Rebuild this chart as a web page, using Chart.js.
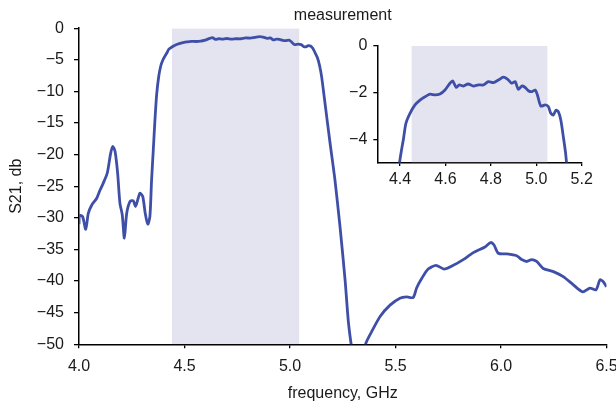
<!DOCTYPE html>
<html>
<head>
<meta charset="utf-8">
<script src="https://cdn.jsdelivr.net/npm/chart.js@4/dist/chart.umd.min.js"></script>
<style>
  body { margin: 0; background: #fff; }
  #wrap { position: relative; width: 616px; height: 403px; }
  #main-chart { position: absolute; left: 0; top: 0; }
  #inset-chart { position: absolute; left: 340px; top: 36px; }
</style>
</head>
<body>
<div id="wrap">
  <canvas id="main-chart" width="616" height="403"></canvas>
  <canvas id="inset-chart" width="276" height="154"></canvas>
</div>
<script>
const freqGHz = [
  4.000, 4.002, 4.017, 4.032, 4.044, 4.060, 4.084, 4.100, 4.115, 4.134,
  4.150, 4.160, 4.171, 4.183, 4.194, 4.205, 4.215, 4.226, 4.242, 4.257,
  4.268, 4.278, 4.289, 4.302, 4.314, 4.326, 4.336, 4.344, 4.352, 4.360,
  4.368, 4.378, 4.388, 4.398, 4.406, 4.415, 4.426, 4.444, 4.466, 4.488,
  4.510, 4.532, 4.554, 4.576, 4.598, 4.620, 4.632, 4.647, 4.661, 4.679,
  4.700, 4.723, 4.745, 4.767, 4.789, 4.811, 4.833, 4.855, 4.873, 4.892,
  4.907, 4.921, 4.936, 4.950, 4.965, 4.980, 4.995, 5.005, 5.020, 5.039,
  5.053, 5.064, 5.075, 5.087, 5.097, 5.108, 5.119, 5.130, 5.140, 5.150,
  5.166, 5.190, 5.213, 5.237, 5.261, 5.276, 5.289, 5.300, 5.325, 5.350,
  5.360, 5.387, 5.427, 5.474, 5.521, 5.553, 5.584, 5.600, 5.624, 5.655,
  5.692, 5.730, 5.774, 5.821, 5.869, 5.924, 5.951, 5.967, 5.987, 6.027,
  6.074, 6.098, 6.122, 6.145, 6.169, 6.200, 6.248, 6.295, 6.343, 6.387,
  6.422, 6.450, 6.469, 6.485, 6.500
];
const s21dB = [
  -31.0, -29.6, -29.8, -31.8, -29.3, -28.0, -26.9, -25.6, -24.5, -22.9,
  -19.8, -18.7, -19.5, -22.9, -27.7, -29.5, -33.2, -29.3, -27.4, -27.3,
  -28.2, -27.2, -26.1, -26.6, -29.3, -31.0, -29.8, -24.0, -19.3, -14.5,
  -10.5, -7.6, -5.9, -5.0, -4.5, -4.0, -3.32, -2.89, -2.53, -2.32,
  -2.18, -2.07, -2.10, -2.06, -1.89, -1.60, -1.50, -1.77, -1.67, -1.72,
  -1.63, -1.72, -1.67, -1.67, -1.53, -1.57, -1.46, -1.34, -1.42, -1.60,
  -1.53, -1.86, -1.72, -1.77, -1.92, -1.96, -1.89, -2.10, -2.58, -2.53,
  -2.60, -2.89, -2.96, -2.75, -2.82, -3.18, -3.89, -4.68, -5.9, -7.7,
  -11.9, -18.2, -24.0, -31.4, -39.8, -46.2, -49.8, -52.0, null, -51.5,
  -49.8, -48.0, -45.6, -43.8, -42.7, -42.5, -42.6, -41.1, -39.6, -38.1,
  -37.5, -38.1, -37.5, -36.6, -35.5, -34.6, -33.9, -34.3, -35.6, -35.7,
  -36.0, -36.6, -36.9, -36.6, -36.9, -38.0, -38.5, -39.3, -40.6, -41.7,
  -41.1, -41.4, -39.8, -40.1, -40.9
];

const mainBand = [4.44, 5.045];
const insetBand = [4.45, 5.05];

const mainXTicks = [4.0, 4.5, 5.0, 5.5, 6.0, 6.5];
const mainYTicks = [0, -5, -10, -15, -20, -25, -30, -35, -40, -45, -50];
const insetXTicks = [4.4, 4.6, 4.8, 5.0, 5.2];
const insetYTicks = [0, -2, -4];

const lineColor = '#3f4fa8';
const bandColor = '#e4e4f0';
const inkColor = '#1a1a1a';
const fontFamily = "'Liberation Sans', Arial, Helvetica, sans-serif";

function fmtNum(v, digits) {
  const s = Math.abs(v).toFixed(digits);
  return v < 0 ? '\u2212' + s : s;
}

function tracePoints() {
  return freqGHz.map((f, i) => ({ x: f, y: s21dB[i] }));
}

function bandPoints(band) {
  return band.map(f => ({ x: f, y: 0 }));
}

function fixedTicks(values) {
  return scale => { scale.ticks = values.map(v => ({ value: v })); };
}

function axisStyle(tickLen) {
  return {
    grid: {
      display: true,
      drawOnChartArea: false,
      drawTicks: true,
      tickLength: tickLen,
      color: '#000',
      lineWidth: 1.3
    },
    border: { display: true, color: '#000', width: 1.5 }
  };
}

function datasets(band) {
  return [
    {
      data: tracePoints(),
      borderColor: lineColor,
      borderWidth: 2.8,
      pointRadius: 0,
      tension: 0.25,
      spanGaps: false,
      fill: false,
      order: 0
    },
    {
      data: bandPoints(band),
      borderWidth: 0,
      borderColor: 'rgba(0,0,0,0)',
      backgroundColor: bandColor,
      pointRadius: 0,
      fill: 'start',
      order: 1
    }
  ];
}

const baseOptions = {
  responsive: false,
  animation: false,
  events: [],
  plugins: { legend: { display: false }, tooltip: { enabled: false } }
};

new Chart(document.getElementById('main-chart'), {
  type: 'line',
  data: { datasets: datasets(mainBand) },
  options: {
    ...baseOptions,
    layout: { padding: { top: 0, right: 9.5, left: 0, bottom: 0 } },
    plugins: {
      ...baseOptions.plugins,
      title: {
        display: true,
        text: 'measurement',
        fullSize: false,
        color: inkColor,
        font: { family: fontFamily, size: 16, weight: 'normal' },
        padding: { top: 6, bottom: 3 }
      }
    },
    scales: {
      x: {
        type: 'linear',
        min: 4.0,
        max: 6.5,
        ...axisStyle(4),
        afterBuildTicks: fixedTicks(mainXTicks),
        afterFit: s => { s.height = 58.7; s.paddingRight = 0; },
        ticks: {
          color: inkColor,
          padding: 9,
          maxRotation: 0,
          font: { family: fontFamily, size: 16 },
          callback: v => fmtNum(v, 1)
        },
        title: {
          display: true,
          text: 'frequency, GHz',
          color: inkColor,
          font: { family: fontFamily, size: 16 },
          padding: { top: 0, bottom: 0 }
        }
      },
      y: {
        type: 'linear',
        min: -50,
        max: 0,
        ...axisStyle(5),
        afterBuildTicks: fixedTicks(mainYTicks),
        afterFit: s => { s.width = 79; },
        ticks: {
          color: inkColor,
          padding: 10,
          font: { family: fontFamily, size: 16 },
          callback: v => fmtNum(v, 0)
        },
        title: {
          display: true,
          text: 'S21, db',
          color: inkColor,
          font: { family: fontFamily, size: 16 },
          padding: { top: 6.5, bottom: 0 }
        }
      }
    }
  }
});

new Chart(document.getElementById('inset-chart'), {
  type: 'line',
  data: { datasets: datasets(insetBand) },
  options: {
    ...baseOptions,
    layout: { padding: { top: 10, right: 34.3, left: 0, bottom: 0 } },
    scales: {
      x: {
        type: 'linear',
        min: 4.3,
        max: 5.2,
        ...axisStyle(3.5),
        afterBuildTicks: fixedTicks(insetXTicks),
        afterFit: s => { s.height = 27.5; s.paddingRight = 0; },
        ticks: {
          color: inkColor,
          padding: 4,
          maxRotation: 0,
          font: { family: fontFamily, size: 16 },
          callback: v => fmtNum(v, 1)
        }
      },
      y: {
        type: 'linear',
        min: -5,
        max: 0,
        ...axisStyle(4),
        afterBuildTicks: fixedTicks(insetYTicks),
        afterFit: s => { s.width = 37.3; s.paddingTop = 0; s.paddingBottom = 0; },
        ticks: {
          color: inkColor,
          padding: 6,
          font: { family: fontFamily, size: 16 },
          callback: v => fmtNum(v, 0)
        }
      }
    }
  }
});
</script>
</body>
</html>
